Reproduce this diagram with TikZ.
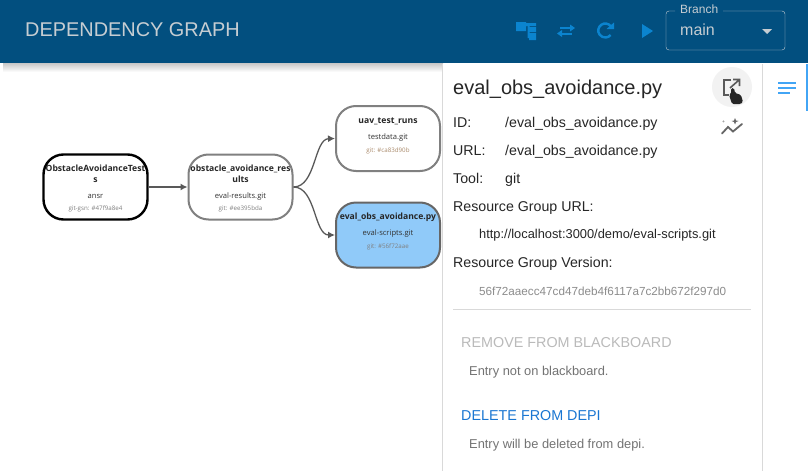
\documentclass[tikz,border=0pt]{standalone}
\usepackage{fontspec}
\setmainfont{Liberation Sans}
\newfontfamily\nodefont{Open Sans}
\usepackage{xcolor}
\usetikzlibrary{arrows.meta,positioning,shapes}
\definecolor{barblue}{HTML}{024F7F}
\definecolor{iconblue}{HTML}{0B84CF}
\definecolor{lightblue}{HTML}{90CAF9}
\definecolor{menublue}{HTML}{42A5F5}
\definecolor{linkblue}{HTML}{1976D2}
\definecolor{bargrey}{HTML}{C6CDD2}
\tikzset{
  depnode/.style={draw=black!50,line width=2pt,rounded corners=20pt,minimum width=104pt,minimum height=65pt,fill=white},
  rootnode/.style={depnode,draw=black,line width=2.4pt},
  pickednode/.style={depnode,fill=lightblue,draw=black!60},
  nodetitle/.style={font=\nodefont\bfseries\fontsize{8.6}{10}\selectfont,text=black!85,align=center,inner sep=0pt},
  noderepo/.style={font=\nodefont\fontsize{7.6}{8}\selectfont,text=black!80,inner sep=0pt},
  nodegit/.style={font=\nodefont\fontsize{6.2}{7}\selectfont,text=black!50,inner sep=0pt},
  deplink/.style={draw=black!65,line width=1.3pt,-{Latex[length=7pt,width=7pt]}},
  infotext/.style={font=\fontsize{14.2}{16}\selectfont,text=black!85,anchor=base west,inner sep=0pt},
  subtext/.style={font=\fontsize{12.85}{14}\selectfont,text=black!55,anchor=base west,inner sep=0pt},
  actiontext/.style={font=\fontsize{14.35}{16}\selectfont,anchor=base west,inner sep=0pt},
  topicon/.style={iconblue,line width=2pt},
}
\begin{document}
\begin{tikzpicture}[x=1pt,y=-1pt]
\useasboundingbox (0,0) rectangle (808,471);
% top bar
\shade[top color=black!22,bottom color=white] (3,63) rectangle (443,72);
\fill[barblue] (0,0) rectangle (808,63);
\node[anchor=base west,inner sep=0pt,text=bargrey,font=\fontsize{19.9}{24}\selectfont] (title) at (25,36) {DEPENDENCY GRAPH};
% toolbar icons
\fill[iconblue] (516,22) rectangle (526,31) (526,23) rectangle (536,26);
\fill[iconblue] (527.5,26) rectangle (529.5,38) (529,27) rectangle (536,32) (529,33) rectangle (536,40);
\draw[topicon] (560,28) -- (571,28);
\fill[iconblue] (570,24.5) -- (575,28) -- (570,31.5) -- cycle;
\draw[topicon] (561,33.5) -- (572,33.5);
\fill[iconblue] (562,30) -- (557,33.5) -- (562,37) -- cycle;
\draw[iconblue,line width=2.4pt] (611,26.5) arc[start angle=-35,end angle=-320,radius=7];
\fill[iconblue] (606.5,29) -- (614,29) -- (614,22.5) -- cycle;
\fill[iconblue] (642,24) -- (653,31) -- (642,38) -- cycle;
% branch selector
\draw[bargrey,rounded corners=3pt] (675,11) -- (666,11) -- (666,50) -- (785,50) -- (785,11) -- (723,11);
\node[anchor=base west,inner sep=0pt,text=bargrey,font=\fontsize{12}{14}\selectfont] (branch) at (680,13) {Branch};
\node[anchor=base west,inner sep=0pt,text=bargrey,font=\fontsize{16}{18}\selectfont] (main) at (680,35) {main};
\fill[bargrey] (762,29) -- (772,29) -- (767,34) -- cycle;
% graph
\node[rootnode] (tests) at (95.5,187) {};
\node[depnode] (results) at (240.5,187) {};
\node[depnode] (runs) at (388,138.5) {};
\node[pickednode] (scripts) at (388,235) {};
\node[nodetitle,anchor=base] (testsname) at (95.5,171) {ObstacleAvoidanceTest};
\node[nodetitle,anchor=base] (testsname2) at (95.5,182) {s};
\node[noderepo,anchor=base] (testsrepo) at (95.5,198) {ansr};
\node[nodegit,anchor=base] (testsgit) at (95.5,210) {git-gsn: \#47f9a8e4};
\node[nodetitle,anchor=base] (resultsname) at (240.5,171) {obstacle\_avoidance\_res};
\node[nodetitle,anchor=base] (resultsname2) at (240.5,182) {ults};
\node[noderepo,anchor=base] (resultsrepo) at (240.5,198) {eval-results.git};
\node[nodegit,anchor=base] (resultsgit) at (240.5,210) {git: \#ee395bda};
\node[nodetitle,anchor=base] (runsname) at (388,123) {uav\_test\_runs};
\node[noderepo,anchor=base] (runsrepo) at (388,139) {testdata.git};
\node[nodegit,anchor=base,text=brown!70!black!70] (runsgit) at (388,152) {git: \#ca83d90b};
\node[nodetitle,anchor=base] (scriptsname) at (388,219) {eval\_obs\_avoidance.py};
\node[noderepo,anchor=base] (scriptsrepo) at (388,235) {eval-scripts.git};
\node[nodegit,anchor=base] (scriptsgit) at (388,248) {git: \#56f72aae};
\draw[deplink] (tests) -- (results);
\draw[deplink] (results.east) .. controls (316,187) and (314,139) .. (runs.west);
\draw[deplink] (results.east) .. controls (316,187) and (314,235) .. (scripts.west);
% side panel
\fill[white] (443,64) rectangle (763,471);
\draw[black!15] (442.5,64) -- (442.5,471);
\draw[black!15] (762.5,64) -- (762.5,471);
\fill[menublue] (806,64) rectangle (808,111);
\draw[menublue,line width=1.8pt] (778,83) -- (796,83) (778,88) -- (796,88) (778,93) -- (790,93);
\node[infotext,font=\fontsize{20}{24}\selectfont] (filename) at (453,94) {eval\_obs\_avoidance.py};
\fill[black!5] (732,87) circle (20);
\draw[black!65,line width=1.6pt] (731,80) -- (724,80) -- (724,95) -- (729,95);
\draw[black!65,line width=1.6pt] (730,88) -- (739,80) (733,79.5) -- (739.5,79.5) -- (739.5,86);
\fill[black!85,rounded corners=1.5pt] (732,104) -- (729,95) -- (731,94) -- (731,88) -- (734,88) -- (735,93) -- (741,95) -- (743,102) -- (741,104) -- cycle;
\draw[black!60,line width=1.8pt,line cap=round] (722,133.5) -- (728,127) -- (733,131.5) -- (742,124);
\fill[black!60] (735,118) -- (736,120.5) -- (738.5,121) -- (736,122) -- (735,124.5) -- (734,122) -- (731.5,121) -- (734,120.5) -- cycle;
\node[black!60,font=\fontsize{5}{6}\selectfont,inner sep=0pt] (spark) at (723.5,122.5) {+};
\node[infotext] (idkey) at (453,127) {ID:};
\node[infotext] (idval) at (505,127) {/eval\_obs\_avoidance.py};
\node[infotext] (urlkey) at (453,155) {URL:};
\node[infotext] (urlval) at (505,155) {/eval\_obs\_avoidance.py};
\node[infotext] (toolkey) at (453,183) {Tool:};
\node[infotext] (toolval) at (505,183) {git};
\node[infotext] (groupkey) at (453,211) {Resource Group URL:};
\node[subtext,text=black!85] (groupval) at (479,238) {http://localhost:3000/demo/eval-scripts.git};
\node[infotext] (verkey) at (453,267) {Resource Group Version:};
\node[subtext,text=black!45,font=\fontsize{11.7}{14}\selectfont] (verval) at (479,295) {56f72aaecc47cd47deb4f6117a7c2bb672f297d0};
\draw[black!15] (453,309.5) -- (751,309.5);
\node[actiontext,text=black!27] (remove) at (461,347) {REMOVE FROM BLACKBOARD};
\node[subtext] (removenote) at (469,375) {Entry not on blackboard.};
\node[actiontext,text=linkblue] (delete) at (461,420) {DELETE FROM DEPI};
\node[subtext] (deletenote) at (469,448) {Entry will be deleted from depi.};
\end{tikzpicture}
\end{document}
